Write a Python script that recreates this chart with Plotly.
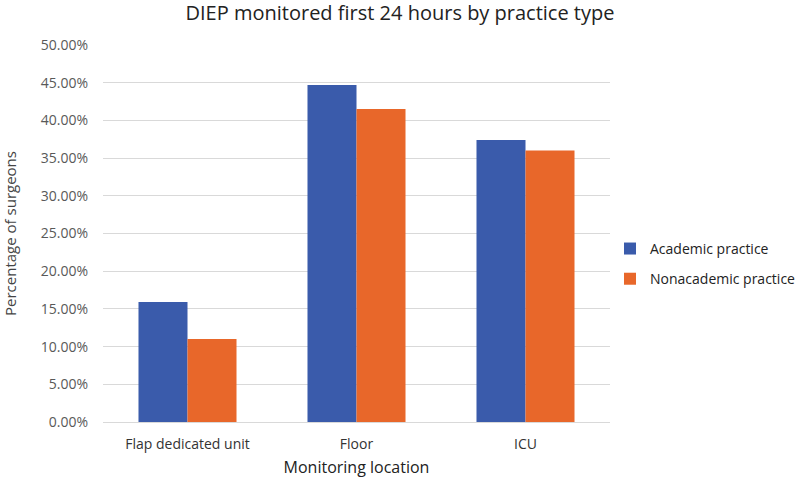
import plotly.graph_objects as go

categories = ["Flap dedicated unit", "Floor", "ICU"]
academic = [15.9, 44.7, 37.4]
nonacademic = [11.0, 41.5, 36.0]
y_ticks = [0, 5, 10, 15, 20, 25, 30, 35, 40, 45, 50]
y_tick_labels = [f"{v:.2f}%" for v in y_ticks]

font_family = "Open Sans, Lato, sans-serif"

fig = go.Figure()
fig.add_trace(go.Bar(name="Academic practice", x=categories, y=academic,
                     legendgroup="a",
                     marker=dict(color="#3A5BAB", line=dict(width=0))))
fig.add_trace(go.Bar(name="Nonacademic practice", x=categories, y=nonacademic,
                     legendgroup="b",
                     marker=dict(color="#E8672A", line=dict(width=0))))

fig.update_layout(
    width=800, height=479,
    barmode="group", bargap=0.42, bargroupgap=0,
    paper_bgcolor="white", plot_bgcolor="white",
    margin=dict(l=103, r=190, t=45, b=57, autoexpand=False),
    font=dict(family=font_family, color="#595959", size=14),
    title=dict(text="DIEP monitored first 24 hours by practice type",
               x=0.5, xanchor="center", y=0.973, yanchor="middle",
               font=dict(size=20, color="#222222", family=font_family)),
    legend=dict(x=0.7625, xref="container", y=0.449, yref="container",
                yanchor="middle", xanchor="left",
                font=dict(size=14, color="#222222"), tracegroupgap=9,
                itemwidth=30),
    xaxis=dict(showgrid=False, showline=True, linecolor="#D9D9D9", linewidth=1,
               ticks="", ticklabelstandoff=9,
               tickfont=dict(size=14, color="#333333"),
               title=dict(text="Monitoring location", standoff=10,
                          font=dict(size=16, color="#222222"))),
    yaxis=dict(range=[0, 50], tickvals=y_ticks, ticktext=y_tick_labels,
               showgrid=True, gridcolor="#D9D9D9", gridwidth=1, zeroline=False,
               showline=False, ticks="", ticklabelstandoff=14,
               tickfont=dict(size=14, color="#595959"),
               title=dict(text="Percentage of surgeons", standoff=20,
                          font=dict(size=15, color="#444444"))),
)

fig.write_html("out.html", config={"displayModeBar": False},
               post_script="document.body.style.margin='0';document.body.style.overflow='hidden';")
